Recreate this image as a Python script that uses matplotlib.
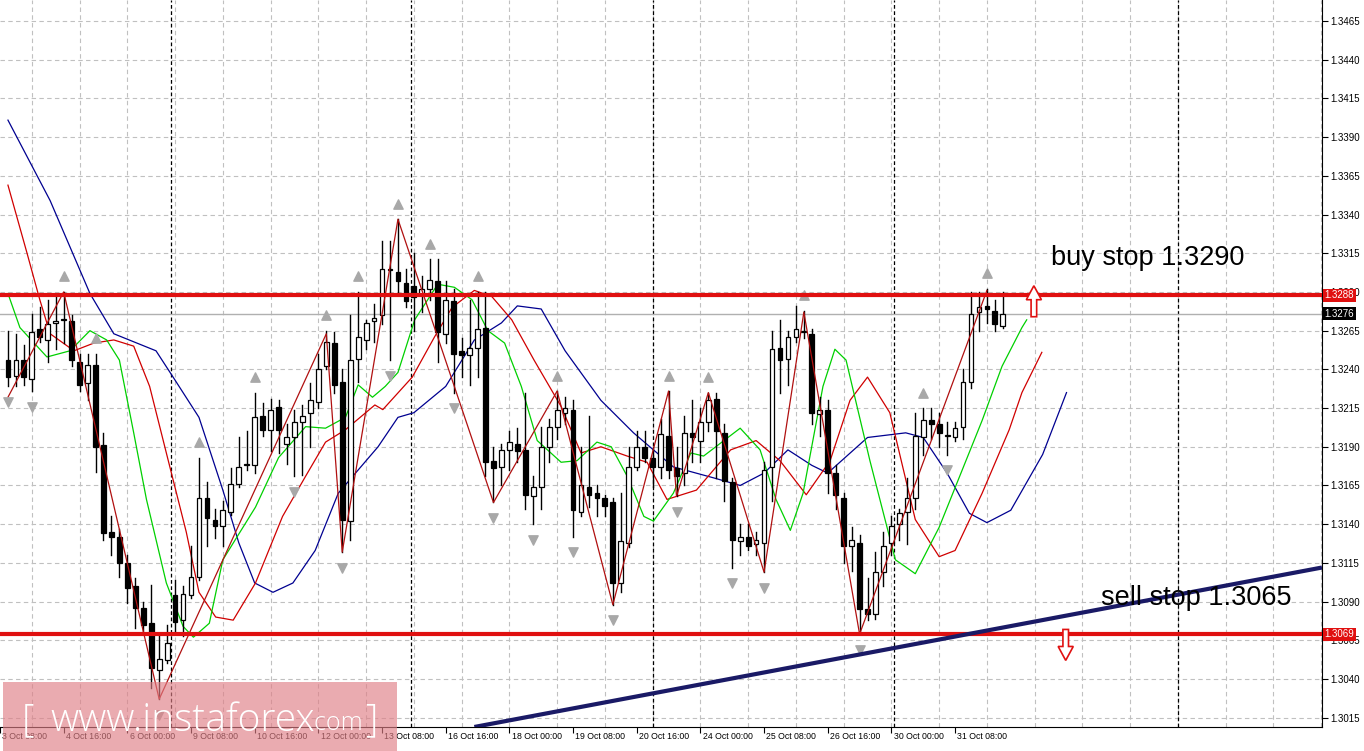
import matplotlib
matplotlib.use("Agg")
import matplotlib.pyplot as plt
from matplotlib.patches import Rectangle, FancyArrow
import numpy as np

opens = [1.3246,1.3236,1.3246,1.3234,1.3266,1.3259,1.3270,1.3272,1.3271,1.3245,1.3231,1.3243,1.3191,1.3135,1.3132,1.3115,1.3100,1.3086,1.3076,1.3046,
         1.3052,1.3094,1.3078,1.3094,1.3106,1.3157,1.3143,1.3139,1.3148,1.3166,1.3178,1.3178,1.3210,1.3201,1.3216,1.3192,1.3196,1.3206,1.3212,1.3219,
         1.3242,1.3257,1.3232,1.3142,1.3247,1.3259,1.3271,1.3275,1.3304,1.3303,1.3296,1.3294,1.3289,1.3292,1.3297,1.3263,1.3284,1.3252,1.3249,1.3254,
         1.3267,1.3181,1.3177,1.3188,1.3192,1.3188,1.3158,1.3164,1.3190,1.3203,1.3212,1.3214,1.3148,1.3164,1.3160,1.3157,1.3154,1.3102,1.3128,1.3177,
         1.3190,1.3183,1.3177,1.3197,1.3176,1.3173,1.3199,1.3194,1.3206,1.3221,1.3199,1.3167,1.3129,1.3132,1.3127,1.3128,1.3177,1.3254,1.3247,1.3261,
         1.3264,1.3263,1.3211,1.3214,1.3173,1.3157,1.3126,1.3128,1.3085,1.3082,1.3109,1.3128,1.3140,1.3148,1.3157,1.3196,1.3207,1.3205,1.3197,1.3196,
         1.3203,1.3232,1.3277,1.3281,1.3278,1.3268]
highs = [1.3265,1.3263,1.3256,1.3276,1.3280,1.3285,1.3287,1.3290,1.3275,1.3250,1.3250,1.3250,1.3199,1.3145,1.3137,1.3120,1.3105,1.3090,1.3101,1.3069,
         1.3075,1.3104,1.3100,1.3126,1.3183,1.3167,1.3150,1.3155,1.3176,1.3196,1.3200,1.3225,1.3218,1.3221,1.3220,1.3205,1.3214,1.3217,1.3231,1.3250,
         1.3265,1.3264,1.3240,1.3275,1.3290,1.3272,1.3282,1.3323,1.3323,1.3337,1.3305,1.3315,1.3300,1.3311,1.3311,1.3297,1.3292,1.3260,1.3285,1.3290,
         1.3290,1.3190,1.3192,1.3200,1.3202,1.3225,1.3171,1.3203,1.3208,1.3226,1.3222,1.3220,1.3190,1.3210,1.3165,1.3159,1.3157,1.3160,1.3190,1.3200,
         1.3200,1.3190,1.3208,1.3226,1.3190,1.3210,1.3220,1.3215,1.3225,1.3225,1.3205,1.3170,1.3140,1.3140,1.3135,1.3180,1.3265,1.3272,1.3265,1.3281,
         1.3278,1.3266,1.3222,1.3220,1.3178,1.3160,1.3138,1.3133,1.3105,1.3122,1.3135,1.3145,1.3150,1.3170,1.3212,1.3215,1.3215,1.3212,1.3206,1.3206,
         1.3240,1.3290,1.3290,1.3292,1.3285,1.3290]
lows = [1.3229,1.3229,1.3230,1.3226,1.3258,1.3245,1.3253,1.3257,1.3242,1.3226,1.3220,1.3174,1.3130,1.3120,1.3106,1.3089,1.3073,1.3071,1.3034,1.3027,
        1.3050,1.3070,1.3068,1.3092,1.3104,1.3126,1.3131,1.3126,1.3146,1.3164,1.3175,1.3173,1.3197,1.3187,1.3186,1.3179,1.3171,1.3172,1.3190,1.3215,
        1.3240,1.3225,1.3122,1.3130,1.3232,1.3253,1.3258,1.3269,1.3246,1.3290,1.3280,1.3265,1.3277,1.3285,1.3245,1.3257,1.3225,1.3235,1.3230,1.3235,
        1.3171,1.3154,1.3165,1.3175,1.3180,1.3150,1.3140,1.3150,1.3180,1.3195,1.3205,1.3132,1.3145,1.3151,1.3145,1.3145,1.3088,1.3096,1.3125,1.3175,
        1.3180,1.3164,1.3170,1.3170,1.3158,1.3165,1.3180,1.3180,1.3200,1.3170,1.3155,1.3112,1.3120,1.3123,1.3120,1.3109,1.3155,1.3225,1.3230,1.3258,
        1.3260,1.3205,1.3197,1.3160,1.3150,1.3115,1.3110,1.3069,1.3078,1.3079,1.3100,1.3120,1.3130,1.3127,1.3150,1.3185,1.3195,1.3190,1.3185,1.3194,
        1.3195,1.3228,1.3265,1.3270,1.3265,1.3267]
closes = [1.3235,1.3246,1.3235,1.3264,1.3261,1.3269,1.3271,1.3272,1.3246,1.3230,1.3243,1.3190,1.3134,1.3132,1.3115,1.3099,1.3086,1.3075,1.3047,1.3053,
          1.3063,1.3077,1.3095,1.3106,1.3157,1.3144,1.3139,1.3149,1.3166,1.3177,1.3179,1.3209,1.3201,1.3214,1.3201,1.3196,1.3206,1.3210,1.3220,1.3240,
          1.3258,1.3230,1.3143,1.3246,1.3261,1.3270,1.3273,1.3305,1.3305,1.3297,1.3284,1.3287,1.3292,1.3298,1.3264,1.3285,1.3250,1.3249,1.3254,1.3266,
          1.3180,1.3176,1.3188,1.3193,1.3187,1.3159,1.3164,1.3190,1.3203,1.3214,1.3215,1.3149,1.3165,1.3159,1.3157,1.3152,1.3102,1.3129,1.3177,1.3190,
          1.3183,1.3177,1.3198,1.3175,1.3171,1.3199,1.3196,1.3206,1.3220,1.3200,1.3168,1.3130,1.3132,1.3126,1.3130,1.3175,1.3253,1.3246,1.3261,1.3266,
          1.3265,1.3212,1.3214,1.3173,1.3159,1.3126,1.3130,1.3085,1.3082,1.3109,1.3126,1.3139,1.3147,1.3157,1.3197,1.3207,1.3205,1.3199,1.3197,1.3202,
          1.3232,1.3276,1.3280,1.3279,1.3269,1.3276]

jaw_idx = [0,5.3,10.3,13.3,18.6,21,24,27,29,31,33.3,35.8,38.6,41.5,46.5,49,51,55,58.6,62,64,67,70,74.5,78.6,83.6,88.6,92,95,98,101,103,108,112.8,115,118,120.8,123,126,130,133]
jaw = [1.3401,1.3349,1.3289,1.3263,1.3252,1.3233,1.3209,1.3162,1.3128,1.3102,1.3096,1.3102,1.3123,1.3160,1.3190,1.3209,1.3212,1.3229,1.3259,1.3270,1.3281,1.3279,1.3252,1.3220,1.3199,1.3177,1.3170,1.3165,1.3173,1.3188,1.3178,1.3173,1.3196,1.3199,1.3196,1.3173,1.3147,1.3141,1.3149,1.3185,1.3225]
teeth_idx = [0,2.4,4,5.3,8.3,10.8,13.3,15.8,17.8,19.9,22.4,24,26.1,28.3,31.1,34.5,37.4,39.9,42.4,46.1,47.1,50.8,53.6,55.8,58.6,60.8,63.3,66.1,69.5,72,74.5,77.8,80.3,82.8,86.5,90.8,94,97,100.3,103.3,105.8,108,110.8,114,117,119,122.4,125.8,127.4,129.9]
teeth = [1.3359,1.3315,1.3285,1.3263,1.3252,1.3257,1.3259,1.3255,1.3229,1.3186,1.3135,1.3096,1.3080,1.3078,1.3102,1.3145,1.3171,1.3193,1.3201,1.3217,1.3214,1.3235,1.3261,1.3280,1.3291,1.3287,1.3272,1.3246,1.3216,1.3186,1.3190,1.3184,1.3180,1.3156,1.3162,1.3188,1.3194,1.3181,1.3159,1.3181,1.3220,1.3235,1.3212,1.3143,1.3119,1.3123,1.3160,1.3201,1.3225,1.3251]
lips_idx = [0,1.5,4.9,7.8,10.3,12.4,14,15.8,17.4,19.9,22,23.3,25.3,27,31.1,34,37.4,39.9,42.4,44,45.8,47.4,49,51.1,54,56.1,58.3,60.3,62.4,64.5,66.5,69.5,71.5,74,75.8,77.8,79.9,81.1,83.6,85.8,87.4,92,94.5,96.5,98.3,99.9,102.4,103.9,105.3,108.3,111.5,114,117,122.4,124.9,127.4,128]
lips = [1.3289,1.3267,1.3248,1.3252,1.3265,1.3259,1.3246,1.3199,1.3156,1.3102,1.3074,1.3067,1.3076,1.3117,1.3151,1.3183,1.3203,1.3202,1.3209,1.3230,1.3222,1.3229,1.3238,1.3272,1.3295,1.3293,1.3285,1.3265,1.3257,1.3229,1.3194,1.3180,1.3181,1.3193,1.3190,1.3171,1.3145,1.3142,1.3160,1.3186,1.3184,1.3202,1.3188,1.3156,1.3136,1.3160,1.3229,1.3253,1.3246,1.3181,1.3117,1.3108,1.3138,1.3207,1.3242,1.3267,1.3272]
zz_idx = [0,7,19,40,42,49,61,69,76,83,84,88,95,100,107,123]
zz = [1.3222,1.3290,1.3027,1.3263,1.3122,1.3337,1.3154,1.3226,1.3088,1.3226,1.3158,1.3225,1.3109,1.3277,1.3069,1.3291]
frac_up = [7,11,24,31,40,44,49,53,59,69,83,88,100,115,123]
frac_dn = [0,3,19,36,42,48,56,61,66,71,76,84,91,95,107,118]
trend_idx = [58.6,165.1]
trend = [1.3009,1.3112]
buy_level, sell_level, last_price = 1.3288, 1.3069, 1.3276
yticks = [1.3015+0.0025*k for k in range(19)]
xlabels = ["3 Oct 08:00","4 Oct 16:00","6 Oct 00:00","9 Oct 08:00","10 Oct 16:00","12 Oct 00:00","13 Oct 08:00","16 Oct 16:00",
           "18 Oct 00:00","19 Oct 08:00","20 Oct 16:00","24 Oct 00:00","25 Oct 08:00","26 Oct 16:00","30 Oct 00:00","31 Oct 08:00"]
xlabel_idx = [-1+8*k for k in range(16)]
separators = [20.5, 50.6, 81, 111.3, 147]

plt.rcParams['font.family'] = ['Liberation Sans', 'DejaVu Sans']
fig = plt.figure(figsize=(13.64,7.51), dpi=100)
ax = fig.add_axes([0,0.032,0.9692,0.968])
XMIN, XMAX = -0.125, 165.1
YMIN, YMAX = 1.30090, 1.34786
ax.set_xlim(XMIN, XMAX); ax.set_ylim(YMIN, YMAX)

for y in yticks:
    ax.axhline(y, color='#c0c0c0', lw=0.8, ls=(0,(4,3)), zorder=0)
for i in np.arange(3, 166, 6):
    ax.axvline(i, color='#c0c0c0', lw=0.8, ls=(0,(4,3)), zorder=0)
for s in separators:
    ax.axvline(s, color='black', lw=0.9, ls=(0,(3,2)), zorder=0.5)

ax.plot(jaw_idx, jaw, color='#000090', lw=0.9, zorder=2)
ax.plot(teeth_idx, teeth, color='#d00000', lw=0.9, zorder=2)
ax.plot(lips_idx, lips, color='#00d000', lw=0.9, zorder=2)

for i,(o,h,l,c) in enumerate(zip(opens,highs,lows,closes)):
    ax.plot([i,i],[l,h], color='black', lw=1, zorder=3)
    lo, hi = min(o,c), max(o,c)
    fc = 'white' if c >= o else 'black'
    ax.add_patch(Rectangle((i-0.3, lo), 0.6, max(hi-lo, 0.00003), facecolor=fc, edgecolor='black', lw=0.9, zorder=4))

ax.plot(zz_idx, zz, color='#b01010', lw=0.9, zorder=5)
ax.scatter(frac_up, [highs[i]+0.0010 for i in frac_up], marker='^', s=45, color='#a8a8a8', zorder=6)
ax.scatter(frac_dn, [lows[i]-0.0010 for i in frac_dn], marker='v', s=45, color='#a8a8a8', zorder=6)

ax.axhline(last_price, color='#b0b0b0', lw=1, zorder=1)
ax.axhline(buy_level, color='#e01010', lw=3, zorder=7)
ax.axhline(sell_level, color='#e01010', lw=3, zorder=7)
ax.plot(trend_idx, trend, color='#1a1a66', lw=3, zorder=7, solid_capstyle='butt')

ax.text(131.1, 1.3312, "buy stop 1.3290", fontsize=19.5, va='center', ha='left', zorder=9)
ax.text(137.3, 1.3092, "sell stop 1.3065", fontsize=19.5, va='center', ha='left', zorder=9)
ax.add_patch(FancyArrow(128.9, buy_level-0.0014, 0, 0.0020, width=0.7, head_width=1.9, head_length=0.0009,
                        length_includes_head=True, facecolor='white', edgecolor='#e01010', lw=1.2, zorder=9))
ax.add_patch(FancyArrow(132.9, sell_level+0.0003, 0, -0.0020, width=0.7, head_width=1.9, head_length=0.0009,
                        length_includes_head=True, facecolor='white', edgecolor='#e01010', lw=1.2, zorder=9))

ax.yaxis.tick_right()
ax.set_yticks(yticks)
ax.set_yticklabels([f"{v:.4f}" for v in yticks], fontsize=7)
ax.tick_params(axis='y', length=4, width=0.8, pad=2)
ax.set_xticks(xlabel_idx)
ax.set_xticklabels([])
ax.tick_params(axis='x', length=4, width=0.8, direction='out')
for xi, lab in zip(xlabel_idx, xlabels):
    ax.text(xi+0.3, YMIN-0.0003, lab, fontsize=6.3, ha='left', va='top', clip_on=False)
for s in ['top','left']:
    ax.spines[s].set_visible(False)

for v, bg in [(buy_level,'#e01010'),(last_price,'black'),(sell_level,'#e01010')]:
    ax.text(1.002, (v-YMIN)/(YMAX-YMIN), f"{v:.4f}", transform=ax.transAxes, fontsize=7, color='white',
            ha='left', va='center', bbox=dict(boxstyle='square,pad=0.15', fc=bg, ec='none'), zorder=10)

fig.patches.append(Rectangle((3/1364, 0), 394/1364, 69/751, transform=fig.transFigure,
                             facecolor='#e07f86', alpha=0.65, edgecolor='none', zorder=20))
fig.text(22/1364, 30/751, "[", fontsize=28, color='white', family='Open Sans', weight='light', va='center', zorder=21)
fig.text(50/1364, 30/751, "www.instaforex", fontsize=28, color='white', family='Open Sans', weight='light', va='center', zorder=21)
fig.text(308/1364, 27/751, ".com", fontsize=18, color='white', family='Open Sans', weight='light', va='center', zorder=21)
fig.text(366/1364, 30/751, "]", fontsize=28, color='white', family='Open Sans', weight='light', va='center', zorder=21)

fig.savefig("out.png", dpi=100)
